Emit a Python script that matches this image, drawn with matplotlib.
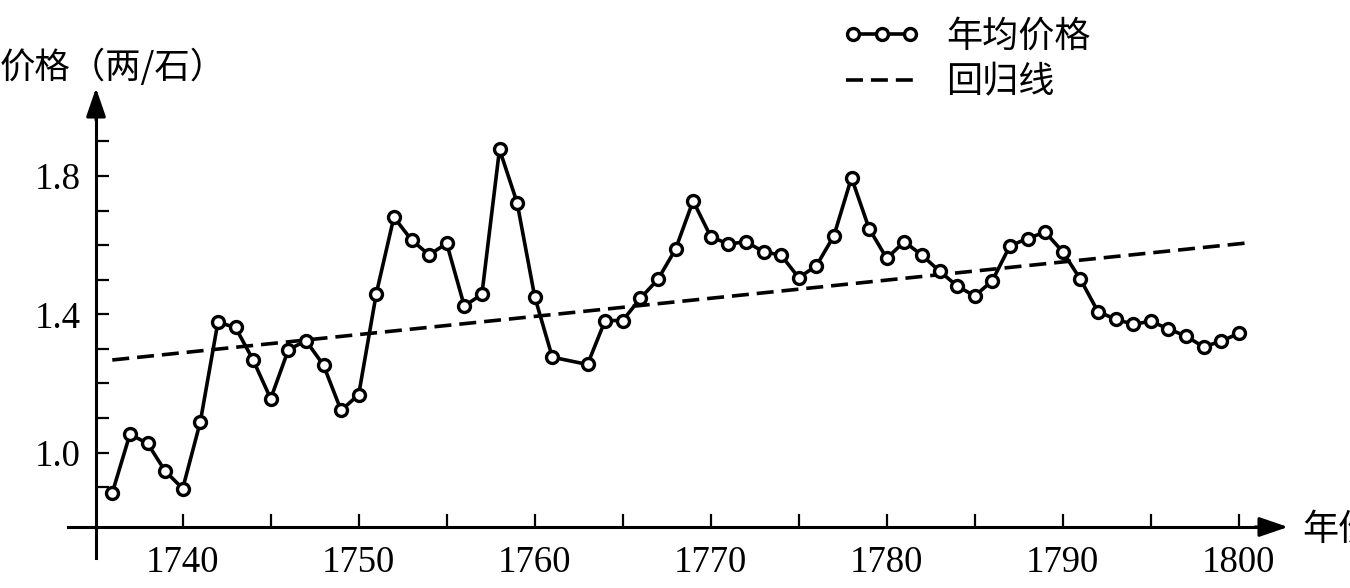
import matplotlib
matplotlib.use("Agg")
import matplotlib.pyplot as plt
from matplotlib.legend_handler import HandlerLine2D
from matplotlib.font_manager import FontProperties

# ---------------- data ----------------
years = [1736, 1737, 1738, 1739, 1740, 1741, 1742, 1743, 1744, 1745,
         1746, 1747, 1748, 1749, 1750, 1751, 1752, 1753, 1754, 1755,
         1756, 1757, 1758, 1759, 1760, 1761, 1763, 1764, 1765, 1766,
         1767, 1768, 1769, 1770, 1771, 1772, 1773, 1774, 1775, 1776,
         1777, 1778, 1779, 1780, 1781, 1782, 1783, 1784, 1785, 1786,
         1787, 1788, 1789, 1790, 1791, 1792, 1793, 1794, 1795, 1796,
         1797, 1798, 1799, 1800]
prices = [0.884, 1.053, 1.027, 0.947, 0.896, 1.089, 1.377, 1.362, 1.268, 1.156,
          1.297, 1.324, 1.253, 1.122, 1.168, 1.460, 1.681, 1.615, 1.572, 1.605,
          1.424, 1.458, 1.877, 1.723, 1.451, 1.276, 1.255, 1.382, 1.382, 1.446,
          1.501, 1.588, 1.728, 1.625, 1.603, 1.610, 1.581, 1.571, 1.506, 1.540,
          1.627, 1.795, 1.648, 1.562, 1.610, 1.571, 1.525, 1.482, 1.453, 1.497,
          1.598, 1.619, 1.638, 1.581, 1.502, 1.408, 1.386, 1.371, 1.380, 1.358,
          1.337, 1.306, 1.322, 1.345]
reg_years = [1736, 1800.4]
reg_values = [1.268, 1.606]
xtick_major = [1740, 1750, 1760, 1770, 1780, 1790, 1800]
xtick_labels = ["1740", "1750", "1760", "1770", "1780", "1790", "1800"]
xtick_minor = [1745, 1755, 1765, 1775, 1785, 1795]
ytick_major = [1.0, 1.4, 1.8]
ytick_labels = ["1.0", "1.4", "1.8"]
ytick_minor = [0.9, 1.1, 1.2, 1.3, 1.5, 1.6, 1.7, 1.9]
series_label = "年均价格"
reg_label = "回归线"
ylabel_text = "价格（两/石）"
xlabel_text = "年份"

# ---------------- layout ----------------
W, H = 1350, 588
fig = plt.figure(figsize=(W / 100, H / 100), dpi=100)
L, R, T, B = 60, 1300, 80, 565
ax = fig.add_axes([L / W, (H - B) / H, (R - L) / W, (B - T) / H])

x_ref_px, x_per_year = 182.7, 17.6     # 1740 at 182.7 px
y_ref_px, y_per_unit = 176.0, 345.8    # 1.8 at 176 px


def xv(px):
    return 1740 + (px - x_ref_px) / x_per_year


def yv(py):
    return 1.8 - (py - y_ref_px) / y_per_unit


ax.set_xlim(xv(L), xv(R))
ax.set_ylim(yv(B), yv(T))

axis_x = xv(96)
axis_y = yv(527)

for s in ("top", "right"):
    ax.spines[s].set_visible(False)
ax.spines["left"].set_position(("data", axis_x))
ax.spines["bottom"].set_position(("data", axis_y))
ax.spines["left"].set_bounds(yv(558), yv(100))
ax.spines["bottom"].set_bounds(xv(68), xv(1275))
for s in ("left", "bottom"):
    ax.spines[s].set_linewidth(2.2)

arrow_kw = dict(arrowstyle="-|>,head_length=1.75,head_width=0.6",
                mutation_scale=10, lw=2.2, color="black",
                shrinkA=0, shrinkB=0)
ax.annotate("", xy=(xv(1288), axis_y), xytext=(xv(1255), axis_y),
            arrowprops=arrow_kw, annotation_clip=False)
ax.annotate("", xy=(axis_x, yv(88)), xytext=(axis_x, yv(120)),
            arrowprops=arrow_kw, annotation_clip=False)

# ---------------- marks ----------------
reg_line, = ax.plot(reg_years, reg_values, color="black", lw=2.6,
                    ls=(0, (4.7, 2.2)), zorder=2)
price_line, = ax.plot(years, prices, color="black", lw=2.6, marker="o",
                      ms=8.6, mfc="white", mec="black", mew=2.4,
                      zorder=3, clip_on=False)

# ---------------- ticks ----------------
serif = "Liberation Serif"
ax.set_xticks(xtick_major)
ax.set_xticklabels(xtick_labels, fontfamily=serif, fontsize=26.5)
ax.set_xticks(xtick_minor, minor=True)
ax.set_yticks(ytick_major)
ax.set_yticklabels(ytick_labels, fontfamily=serif, fontsize=26.5)
ax.set_yticks(ytick_minor, minor=True)
ax.tick_params(axis="x", which="both", direction="in", length=9.5,
               width=1.6, pad=13)
ax.tick_params(axis="y", which="both", direction="in", length=9.5,
               width=1.6, pad=11)

# ---------------- texts ----------------
cjk = ["Noto Sans CJK SC", "DejaVu Sans"]
fig.text(0 / W, 1 - 67 / H, ylabel_text, ha="left", va="center",
         family=cjk, fontsize=25.5)
fig.text(1302 / W, 1 - 530 / H, xlabel_text, ha="left", va="center",
         family=cjk, fontsize=26)

leg = fig.legend([price_line, reg_line], [series_label, reg_label],
                 loc="upper left", bbox_to_anchor=(835 / W, 1 - 19 / H),
                 frameon=False, borderpad=0, borderaxespad=0,
                 handlelength=2.58, handletextpad=0.5, labelspacing=0.26,
                 numpoints=3,
                 prop=FontProperties(family=cjk, size=26),
                 handler_map={price_line: HandlerLine2D(marker_pad=0.5)})

fig.savefig("out.png", dpi=100, facecolor="white")
